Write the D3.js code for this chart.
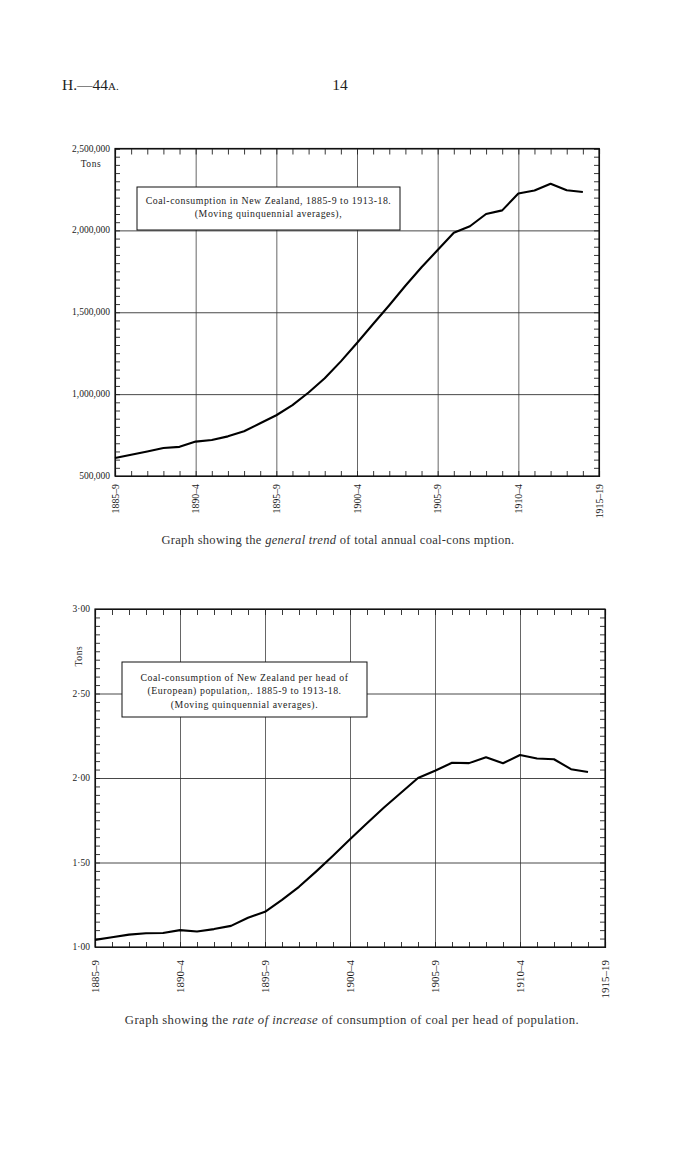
<!DOCTYPE html>
<html>
<head>
<meta charset="utf-8">
<script src="https://cdn.jsdelivr.net/npm/d3@7"></script>
<style>
  body { margin: 0; background: #fff; }
  svg { display: block; font-family: "Liberation Serif", "DejaVu Serif", serif; }
</style>
</head>
<body>
<svg id="page" width="700" height="1149"></svg>
<script>
// period labels under every fifth year
const periods = ["1885–9", "1890–4", "1895–9", "1900–4", "1905–9", "1910–4", "1915–19"];

// moving quinquennial averages, 1885-9 .. 1913-18 (tons)
const totalTons = [610000, 630000, 650000, 671000, 678000, 710000, 720000, 742000, 773000, 822000,
  871000, 933000, 1010000, 1097000, 1200000, 1312000, 1428000, 1543000, 1662000, 1775000,
  1880000, 1985000, 2025000, 2100000, 2122000, 2225000, 2243000, 2285000, 2245000, 2234000];

// tons per head of (European) population
const perHead = [1.042, 1.058, 1.073, 1.081, 1.083, 1.100, 1.092, 1.106, 1.125, 1.173,
  1.208, 1.279, 1.356, 1.446, 1.540, 1.638, 1.732, 1.825, 1.913, 2.000,
  2.043, 2.090, 2.088, 2.123, 2.087, 2.136, 2.115, 2.111, 2.052, 2.036];

const totalTicks = [500000, 1000000, 1500000, 2000000, 2500000];
const perHeadTicks = [1.00, 1.50, 2.00, 2.50, 3.00];

const svg = d3.select("#page");

// page header
svg.append("text").attr("x", 62).attr("y", 90).attr("font-size", 15.5).attr("fill", "#222")
  .text("H.—44").append("tspan").attr("font-size", 11).text("A.");
svg.append("text").attr("x", 340).attr("y", 90).attr("font-size", 15.5).attr("fill", "#222")
  .attr("text-anchor", "middle").text("14");

function drawChart(opt) {
  const x = d3.scaleLinear().domain([0, 30]).range([opt.left, opt.right]);
  const y = d3.scaleLinear().domain(opt.domain).range([opt.bottom, opt.top]);
  const w = opt.right - opt.left, h = opt.bottom - opt.top;
  const g = svg.append("g");

  const yearTicks = d3.range(0, 31);
  const minorY = d3.range(opt.domain[0], opt.domain[1] + opt.minor / 2, opt.minor);

  // grid
  g.append("g").attr("transform", `translate(0,${opt.bottom})`)
    .call(d3.axisBottom(x).tickValues(d3.range(5, 30, 5)).tickSize(-h).tickFormat(""))
    .call(a => a.select(".domain").remove())
    .selectAll("line").attr("stroke", "#555").attr("stroke-width", 0.9);
  g.append("g").attr("transform", `translate(${opt.left},0)`)
    .call(d3.axisLeft(y).tickValues(opt.ticks.slice(1, -1)).tickSize(-w).tickFormat(""))
    .call(a => a.select(".domain").remove())
    .selectAll("line").attr("stroke", "#333").attr("stroke-width", 0.9);

  // inward ticks on all four sides
  const tk = 5;
  g.append("g").attr("transform", `translate(0,${opt.bottom})`)
    .call(d3.axisBottom(x).tickValues(yearTicks).tickSize(-tk).tickFormat(""));
  g.append("g").attr("transform", `translate(0,${opt.top})`)
    .call(d3.axisTop(x).tickValues(yearTicks).tickSize(-tk - 1).tickFormat(""));
  g.append("g").attr("transform", `translate(${opt.left},0)`)
    .call(d3.axisLeft(y).tickValues(minorY).tickSize(-tk).tickFormat(""));
  g.append("g").attr("transform", `translate(${opt.right},0)`)
    .call(d3.axisRight(y).tickValues(minorY).tickSize(-tk).tickFormat(""));
  g.selectAll(".domain").attr("stroke", "#111").attr("stroke-width", 1.1);
  g.selectAll(".tick line").filter(function () { return !this.getAttribute("stroke-width"); })
    .attr("stroke", "#222").attr("stroke-width", 0.9);

  // frame
  g.append("rect").attr("x", opt.left).attr("y", opt.top).attr("width", w).attr("height", h)
    .attr("fill", "none").attr("stroke", "#111").attr("stroke-width", 1.2);

  // y labels
  g.selectAll(".ylab").data(opt.ticks).join("text")
    .attr("x", opt.left - 5).attr("y", d => y(d) + 3)
    .attr("text-anchor", "end").attr("font-size", 9.5).attr("fill", "#222")
    .text(opt.fmt);

  // x labels (rotated)
  g.selectAll(".xlab").data(periods).join("text")
    .attr("transform", (d, i) => `translate(${x(i * 5) + 3.5},${opt.bottom + opt.xLabGap}) rotate(-90)`)
    .attr("text-anchor", "end").attr("font-size", opt.xLabSize).attr("fill", "#1a1a1a")
    .text(d => d);

  // series
  const line = d3.line().x((d, i) => x(i)).y(d => y(d));
  g.append("path").datum(opt.values).attr("d", line)
    .attr("fill", "none").attr("stroke", "#000").attr("stroke-width", 2.1)
    .attr("stroke-linejoin", "round");

  // legend box
  const lb = opt.box;
  g.append("rect").attr("x", lb.x).attr("y", lb.y).attr("width", lb.w).attr("height", lb.h)
    .attr("fill", "#fff").attr("stroke", "#111").attr("stroke-width", 1);
  lb.lines.forEach((t, i) => {
    g.append("text").attr("x", lb.x + lb.w / 2).attr("y", lb.y + lb.first + i * lb.lead)
      .attr("text-anchor", "middle").attr("font-size", 9.8).attr("letter-spacing", 0.55)
      .attr("fill", "#222").text(t);
  });

  return { x, y, g };
}

// top chart: total consumption
const topChart = drawChart({
  left: 115, right: 599, top: 148.5, bottom: 476,
  domain: [500000, 2500000], ticks: totalTicks, minor: 50000,
  fmt: d3.format(","), values: totalTons, xLabGap: 8, xLabSize: 9.8,
  box: { x: 137, y: 187, w: 263, h: 43, first: 17, lead: 12.5,
    lines: ["Coal-consumption in New Zealand, 1885-9 to 1913-18.", "(Moving quinquennial averages),"] }
});
topChart.g.append("text").attr("x", 91).attr("y", 167).attr("text-anchor", "middle")
  .attr("font-size", 9.5).attr("letter-spacing", 0.6).attr("fill", "#222").text("Tons");

svg.append("text").attr("x", 338).attr("y", 544).attr("text-anchor", "middle")
  .attr("font-size", 12.5).attr("letter-spacing", 0.3).attr("fill", "#333")
  .call(t => {
    t.append("tspan").text("Graph showing the ");
    t.append("tspan").attr("font-style", "italic").text("general trend");
    t.append("tspan").text(" of total annual coal-cons  mption.");
  });

// bottom chart: per head
const botChart = drawChart({
  left: 95, right: 605, top: 609, bottom: 947,
  domain: [1, 3], ticks: perHeadTicks, minor: 0.05,
  fmt: d => d.toFixed(2).replace(".", "·"), values: perHead, xLabGap: 13, xLabSize: 11,
  box: { x: 122, y: 662, w: 245, h: 55, first: 18.5, lead: 13.5,
    lines: ["Coal-consumption of New Zealand per head of", "(European) population,. 1885-9 to 1913-18.", "(Moving quinquennial averages)."] }
});
botChart.g.append("text").attr("transform", "translate(82,656) rotate(-90)")
  .attr("text-anchor", "middle").attr("font-size", 9.5).attr("letter-spacing", 0.6)
  .attr("fill", "#222").text("Tons");

svg.append("text").attr("x", 352).attr("y", 1024).attr("text-anchor", "middle")
  .attr("font-size", 12.7).attr("letter-spacing", 0.42).attr("fill", "#333")
  .call(t => {
    t.append("tspan").text("Graph showing the ");
    t.append("tspan").attr("font-style", "italic").text("rate of increase");
    t.append("tspan").text(" of consumption of coal per head of population.");
  });
</script>
</body>
</html>
